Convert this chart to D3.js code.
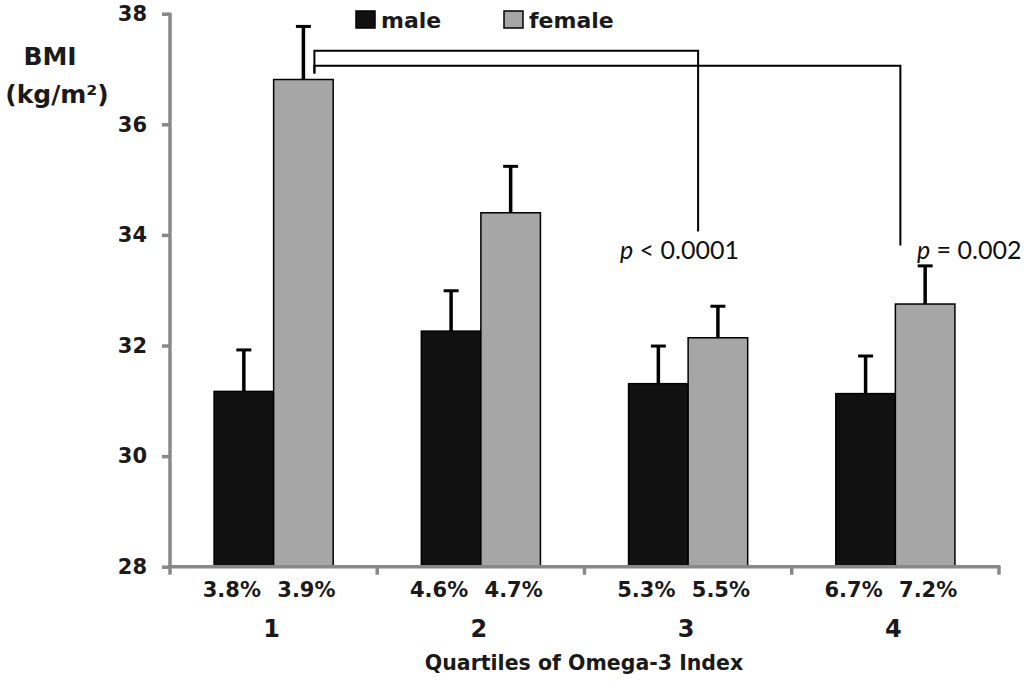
<!DOCTYPE html>
<html>
<head>
<meta charset="utf-8">
<script src="https://cdn.jsdelivr.net/npm/d3@7"></script>
<style>
  body { margin: 0; background: #fff; }
</style>
</head>
<body>
<div id="container"></div>
<script>
let w = 1024;
let h = 682;

// data
let quartiles = ["1", "2", "3", "4"];
let sexes = ["male", "female"];
let maleBMI = [31.17, 32.26, 31.31, 31.13];
let femaleBMI = [36.81, 34.40, 32.14, 32.75];
let maleErr = [0.75, 0.73, 0.68, 0.68];
let femaleErr = [0.96, 0.84, 0.57, 0.69];
let maleIndex = ["3.8%", "4.6%", "5.3%", "6.7%"];
let femaleIndex = ["3.9%", "4.7%", "5.5%", "7.2%"];
let yTicks = [28, 30, 32, 34, 36, 38];

let colors = {male: "#111111", female: "#a6a6a6"};
let axisGray = "#888888";
let textColor = "#1a1a1a";
let boldFont = "DejaVu Sans";

let data = [];
quartiles.forEach(function(q, i){
  data.push({q: q, sex: "male", value: maleBMI[i], err: maleErr[i], label: maleIndex[i]});
  data.push({q: q, sex: "female", value: femaleBMI[i], err: femaleErr[i], label: femaleIndex[i]});
});

let viz = d3.select("#container")
  .append("svg")
    .attr("width", w)
    .attr("height", h)
    .attr("font-family", boldFont)
;

let xScale = d3.scaleBand()
    .domain(quartiles)
    .range([170, 999])
;
let sexScale = d3.scaleBand()
    .domain(sexes)
    .range([0, xScale.bandwidth()])
    .paddingOuter(0.74)
;
let yScale = d3.scaleLinear().domain([28, 38]).range([566.7, 13.7]);

// bars
let bars = viz.append("g").classed("bars", true);
bars.selectAll("rect").data(data).enter()
  .append("rect")
    .attr("x", d => xScale(d.q) + sexScale(d.sex))
    .attr("y", d => yScale(d.value))
    .attr("width", sexScale.bandwidth())
    .attr("height", d => yScale(28) - yScale(d.value))
    .attr("fill", d => colors[d.sex])
    .attr("stroke", "#000")
    .attr("stroke-width", 1.5)
;

// error bars (upper only)
let errs = viz.append("g").classed("errors", true);
let cx = d => xScale(d.q) + sexScale(d.sex) + sexScale.bandwidth() / 2;
errs.selectAll("line.stem").data(data).enter()
  .append("line").classed("stem", true)
    .attr("x1", cx).attr("x2", cx)
    .attr("y1", d => yScale(d.value))
    .attr("y2", d => yScale(d.value + d.err))
    .attr("stroke", "#000").attr("stroke-width", 3.5);
errs.selectAll("line.cap").data(data).enter()
  .append("line").classed("cap", true)
    .attr("x1", d => cx(d) - 7.5).attr("x2", d => cx(d) + 7.5)
    .attr("y1", d => yScale(d.value + d.err))
    .attr("y2", d => yScale(d.value + d.err))
    .attr("stroke", "#000").attr("stroke-width", 3);

// y axis
let yAxis = d3.axisLeft(yScale).tickValues(yTicks).tickSize(8).tickPadding(15);
let yAxisGroup = viz.append("g").attr("transform", "translate(170,0)").call(yAxis);
yAxisGroup.select(".domain").attr("stroke", axisGray).attr("stroke-width", 3.5)
  .attr("d", "M0," + (yScale(38) - 1) + "V" + (yScale(28)));
yAxisGroup.selectAll(".tick line").attr("stroke", axisGray).attr("stroke-width", 3.5);
yAxisGroup.attr("font-family", boldFont);
yAxisGroup.selectAll("text").attr("font-size", 21).attr("font-weight", "bold")
  .attr("fill", textColor);

// x axis
let xEdges = quartiles.map(q => xScale(q)).concat([xScale.range()[1]]);
let xAxisGroup = viz.append("g").classed("xAxis", true);
xAxisGroup.append("line")
  .attr("x1", 168).attr("x2", xScale.range()[1] + 1.5)
  .attr("y1", yScale(28)).attr("y2", yScale(28))
  .attr("stroke", axisGray).attr("stroke-width", 3.5);
xAxisGroup.selectAll("line.tk").data(xEdges).enter()
  .append("line").classed("tk", true)
    .attr("x1", d => d).attr("x2", d => d)
    .attr("y1", yScale(28)).attr("y2", yScale(28) + 8)
    .attr("stroke", axisGray).attr("stroke-width", 3.5);

// omega-3 index labels under each bar
xAxisGroup.selectAll("text.idx").data(data).enter()
  .append("text").classed("idx", true)
    .attr("x", d => cx(d) + (d.sex == "male" ? -12 : 3))
    .attr("y", 597)
    .attr("text-anchor", "middle")
    .attr("font-size", 21).attr("font-weight", "bold").attr("fill", textColor)
    .text(d => d.label);

// quartile numbers
xAxisGroup.selectAll("text.q").data(quartiles).enter()
  .append("text").classed("q", true)
    .attr("x", d => xScale(d) + xScale.bandwidth() / 2 - 2)
    .attr("y", 637)
    .attr("text-anchor", "middle")
    .attr("font-size", 24).attr("font-weight", "bold").attr("fill", textColor)
    .text(d => d);

viz.append("text")
  .attr("x", 584).attr("y", 670)
  .attr("text-anchor", "middle")
  .attr("font-size", 20.5).attr("font-weight", "bold").attr("fill", textColor)
  .text("Quartiles of Omega-3 Index");

// y title
viz.append("text")
  .attr("x", 50).attr("y", 65)
  .attr("text-anchor", "middle")
  .attr("font-size", 25).attr("font-weight", "bold").attr("fill", textColor)
  .text("BMI");
viz.append("text")
  .attr("x", 57).attr("y", 103)
  .attr("text-anchor", "middle")
  .attr("font-size", 25).attr("font-weight", "bold").attr("fill", textColor)
  .text("(kg/m²)");

// legend
let legend = viz.append("g").classed("legend", true);
let legendX = [356, 504];
sexes.forEach(function(s, i){
  legend.append("rect")
    .attr("x", legendX[i]).attr("y", 11)
    .attr("width", 19).attr("height", 17)
    .attr("fill", colors[s]).attr("stroke", "#000").attr("stroke-width", 1.5);
  legend.append("text")
    .attr("x", legendX[i] + 25).attr("y", 28)
    .attr("font-size", 22).attr("font-weight", "bold").attr("fill", textColor)
    .text(s);
});

// significance brackets (female Q1 vs Q3 and Q4)
let f1 = xScale("1") + sexScale("female") + sexScale.bandwidth() / 2 + 11;
let br = viz.append("g").attr("fill", "none").attr("stroke", "#000").attr("stroke-width", 2);
let brackets = [
  {x2: xScale("3") + xScale.bandwidth() / 2 + 10, top: 37.33, end: 34.06},
  {x2: xScale("4") + xScale.bandwidth() / 2 + 5, top: 37.06, end: 33.81}
];
brackets.forEach(function(b){
  br.append("path").attr("d",
    "M" + f1 + "," + yScale(36.92) + "V" + yScale(b.top) + "H" + b.x2 + "V" + yScale(b.end));
});

let pLabels = [
  {x: 620, rest: " < 0.0001"},
  {x: 917, rest: " = 0.002"}
];
pLabels.forEach(function(p){
  let t = viz.append("text").attr("x", p.x).attr("y", 259)
    .attr("font-family", "Lato").attr("font-size", 25).attr("fill", "#111");
  t.append("tspan").attr("font-style", "italic").text("p");
  t.append("tspan").text(p.rest);
});
</script>
</body>
</html>
